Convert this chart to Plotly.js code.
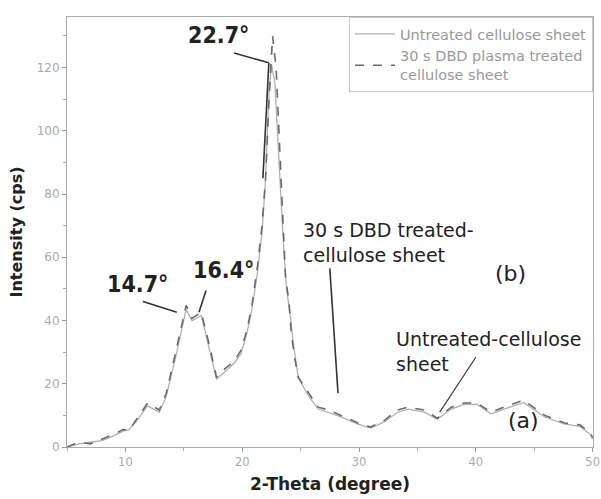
<!DOCTYPE html>
<html>
<head>
<meta charset="utf-8">
<script src="https://cdn.plot.ly/plotly-3.0.1.min.js"></script>
<style>html,body{margin:0;padding:0;background:#fff;}#chart{width:601px;height:499px;}</style>
</head>
<body>
<div id="chart"></div>
<script>
// 2-Theta (degree)
const thetaTreated = [5, 6, 7, 8, 9, 9.8, 10.3, 11, 11.9, 12.9, 13.5, 14.4, 15.2, 15.7, 16.5, 17.2, 17.8, 18.6, 19.3, 19.9, 20.4, 20.8, 21.3, 21.7, 22.0, 22.3, 22.6, 22.9, 23.1, 23.3, 23.4, 23.6, 23.7, 24.0, 24.2, 24.5, 24.8, 25.7, 26.5, 27.4, 28.1, 28.8, 29.9, 31.0, 32.2, 33.3, 34.2, 35.6, 36.7, 37.9, 39.0, 40.1, 41.3, 42.4, 44.1, 45.9, 47.6, 48.9, 49.8, 50];
const intensityTreated = [0, 1.5, 1, 2.5, 4, 5.5, 5.2, 9, 13.9, 11.7, 17, 31.5, 44.8, 40.7, 42.6, 32, 22, 25, 27, 30.6, 37, 44, 57, 70, 85, 110, 130, 120, 103, 87, 76, 61, 54, 46, 36, 28, 22, 17, 12.6, 11.7, 10.5, 9.5, 7.6, 6.3, 8.5, 11.7, 12.6, 11.7, 9.1, 12.6, 13.9, 13.9, 11, 12.6, 14.8, 10, 7.6, 7, 4.4, 3];
const thetaUntreated = [5, 6, 7, 8, 9, 9.8, 10.3, 11, 11.9, 12.9, 13.5, 14.4, 15.2, 15.7, 16.5, 17.2, 17.8, 18.6, 19.3, 19.9, 20.4, 20.8, 21.3, 21.7, 22.0, 22.3, 22.5, 22.8, 23.0, 23.2, 23.4, 23.6, 23.8, 24.1, 24.4, 24.8, 25.7, 26.5, 27.4, 28.1, 28.8, 29.9, 31.0, 32.2, 33.3, 34.2, 35.6, 36.7, 37.9, 39.0, 40.1, 41.3, 42.4, 44.1, 45.9, 47.6, 48.9, 49.8, 50];
const intensityUntreated = [0, 1, 1.5, 2, 3.5, 5, 5.5, 8.5, 13, 11, 16, 30, 43.5, 40, 41.5, 31, 21.5, 24, 26.5, 29.5, 36, 43, 55, 68, 85, 112, 121, 115, 100, 85, 73, 60, 50, 42, 32, 22, 16, 12, 11, 10, 9, 7.2, 6, 8, 11, 12, 11, 8.8, 12, 13.5, 13.5, 10.5, 12, 14, 9.5, 7.2, 6.5, 4, 2.5];
const seriesNames = ['Untreated cellulose sheet', '30 s DBD plasma treated<br>cellulose sheet'];
const xTickVals = [10, 20, 30, 40, 50];
const xTickText = ['10', '20', '30', '40', '50'];
const yTickVals = [0, 20, 40, 60, 80, 100, 120];
const yTickText = ['0', '20', '40', '60', '80', '100', '120'];

const traces = [
  {x: thetaUntreated, y: intensityUntreated, name: seriesNames[0], type: 'scatter', mode: 'lines',
   line: {color: '#b0b0b0', width: 1.3}},
  {x: thetaTreated, y: intensityTreated, name: seriesNames[1], type: 'scatter', mode: 'lines',
   line: {color: '#6a6a6a', width: 1.6, dash: 'dash'}}
];

const bold = {family: 'DejaVu Sans Condensed, Liberation Sans Narrow, DejaVu Sans', size: 23, color: '#222', weight: 'bold'};
const reg = {family: 'DejaVu Sans', size: 19, color: '#222'};
const paren = {family: 'DejaVu Sans', size: 22, color: '#222'};
const lineStyle = {color: '#333', width: 1.6};

const layout = {
  width: 601, height: 499,
  margin: {l: 67, r: 8, t: 17, b: 52},
  paper_bgcolor: '#fff', plot_bgcolor: '#fff',
  showlegend: true,
  legend: {x: 1, y: 1, xanchor: 'right', yanchor: 'top', bgcolor: '#fff', bordercolor: '#c8c8c8', borderwidth: 1,
    font: {family: 'DejaVu Sans', size: 14.5, color: '#999'}, tracegroupgap: 0, itemwidth: 40},
  xaxis: {range: [5, 50.03], tickvals: xTickVals, ticktext: xTickText, ticks: 'outside', ticklen: 4, tickcolor: '#999',
    showline: true, linecolor: '#aaa', mirror: true, showgrid: false, zeroline: false, ticklabeloverflow: 'allow',
    minor: {dtick: 5, ticks: 'outside', ticklen: 3, tickcolor: '#aaa'},
    tickfont: {family: 'DejaVu Sans', size: 11.5, color: '#aaa'},
    title: {text: '2-Theta (degree)', font: {family: 'DejaVu Sans', size: 17, color: '#222', weight: 'bold'}, standoff: 10}},
  yaxis: {range: [0, 136], tickvals: yTickVals, ticktext: yTickText, ticks: 'outside', ticklen: 4, tickcolor: '#999',
    showline: true, linecolor: '#aaa', mirror: true, showgrid: false, zeroline: false,
    minor: {dtick: 10, ticks: 'outside', ticklen: 3, tickcolor: '#aaa'},
    tickfont: {family: 'DejaVu Sans', size: 12, color: '#aaa'},
    title: {text: 'Intensity (cps)', font: {family: 'DejaVu Sans', size: 16, color: '#222', weight: 'bold'}, standoff: 10}},
  annotations: [
    {x: 20.74, y: 125.5, xref: 'x', yref: 'y', text: '22.7°', showarrow: false, xanchor: 'right', yanchor: 'bottom', font: bold},
    {x: 13.8, y: 46.8, xref: 'x', yref: 'y', text: '14.7°', showarrow: false, xanchor: 'right', yanchor: 'bottom', font: bold},
    {x: 15.6, y: 51.2, xref: 'x', yref: 'y', text: '16.4°', showarrow: false, xanchor: 'left', yanchor: 'bottom', font: bold},
    {x: 25.0, y: 56.5, xref: 'x', yref: 'y', text: '30 s DBD treated-<br>cellulose sheet', showarrow: false, xanchor: 'left', yanchor: 'bottom', align: 'left', font: reg},
    {x: 43.0, y: 54.9, xref: 'x', yref: 'y', text: '(b)', showarrow: false, xanchor: 'center', yanchor: 'middle', font: paren},
    {x: 33.0, y: 22.2, xref: 'x', yref: 'y', text: 'Untreated-cellulose<br>sheet', showarrow: false, xanchor: 'left', yanchor: 'bottom', align: 'left', font: reg},
    {x: 44.1, y: 8.5, xref: 'x', yref: 'y', text: '(a)', showarrow: false, xanchor: 'center', yanchor: 'middle', font: paren}
  ],
  shapes: [
    {type: 'line', xref: 'x', yref: 'y', x0: 19.3, y0: 124.6, x1: 22.28, y1: 121.5, line: lineStyle},
    {type: 'line', xref: 'x', yref: 'y', x0: 22.28, y0: 121.5, x1: 21.77, y1: 85, line: lineStyle},
    {type: 'line', xref: 'x', yref: 'y', x0: 11.5, y0: 46, x1: 14.4, y1: 42.6, line: lineStyle},
    {type: 'line', xref: 'x', yref: 'y', x0: 16.9, y0: 49.5, x1: 16.3, y1: 42.6, line: lineStyle},
    {type: 'line', xref: 'x', yref: 'y', x0: 27.5, y0: 56.5, x1: 28.2, y1: 17, line: lineStyle},
    {type: 'line', xref: 'x', yref: 'y', x0: 40.0, y0: 28.4, x1: 36.9, y1: 11.0, line: {color: '#333', width: 1.2}}
  ]
};

Plotly.newPlot('chart', traces, layout, {displayModeBar: false, staticPlot: true});
</script>
</body>
</html>
